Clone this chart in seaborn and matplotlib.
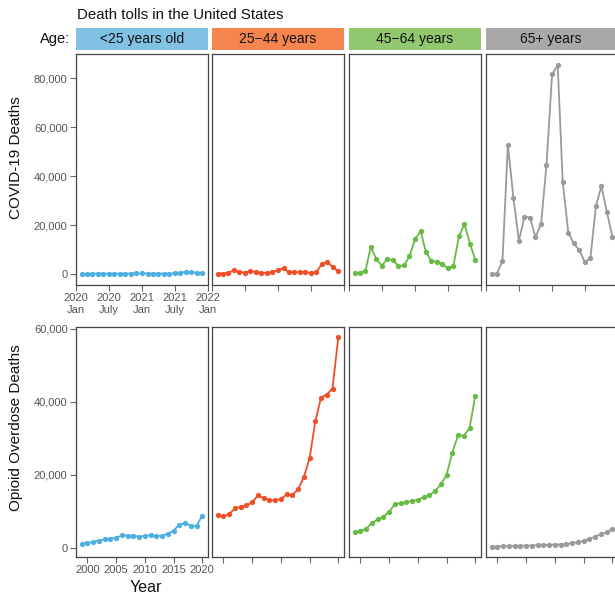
import matplotlib
matplotlib.use("Agg")
import matplotlib.pyplot as plt
from matplotlib.patches import Rectangle
from matplotlib.ticker import FuncFormatter
import pandas as pd
import seaborn as sns

# ---------------- data ----------------
age_groups = ["<25 years old", "25\u221244 years", "45\u221264 years", "65+ years"]

covid_months = ["2020-02-01", "2020-03-01", "2020-04-01", "2020-05-01", "2020-06-01",
                "2020-07-01", "2020-08-01", "2020-09-01", "2020-10-01", "2020-11-01",
                "2020-12-01", "2021-01-01", "2021-02-01", "2021-03-01", "2021-04-01",
                "2021-05-01", "2021-06-01", "2021-07-01", "2021-08-01", "2021-09-01",
                "2021-10-01", "2021-11-01", "2021-12-01"]

covid_u25 = [50, 100, 150, 200, 150, 150, 150, 150, 150, 200, 250, 250, 200, 200, 150,
             150, 200, 300, 600, 900, 800, 500, 300]
covid_25_44 = [200, 200, 500, 1500, 800, 600, 1200, 800, 500, 500, 800, 1600, 2300, 800,
               800, 800, 700, 500, 800, 4100, 5000, 2700, 1100]
covid_45_64 = [300, 300, 1400, 11000, 6000, 3400, 6300, 5600, 3300, 3500, 7200, 14400,
               17400, 9200, 5300, 5000, 4200, 2300, 3300, 15400, 20400, 12400, 5600]
covid_65p = [100, 100, 5200, 52800, 31100, 13600, 23400, 23100, 15100, 20500, 44600,
             81700, 85400, 37500, 16900, 12500, 9700, 4900, 6400, 27900, 35900, 25200,
             15100]

opioid_years = list(range(1999, 2021))
opioid_u25 = [1180, 1360, 1640, 2000, 2360, 2550, 2730, 3450, 3360, 3270, 3090, 3270,
              3450, 3180, 3360, 3910, 4730, 6360, 6820, 6000, 6000, 8820]
opioid_25_44 = [9000, 8640, 9270, 10820, 11270, 11640, 12450, 14360, 13640, 13090, 13000,
                13360, 14640, 14540, 16000, 19360, 24540, 34640, 41180, 42000, 43640,
                57630]
opioid_45_64 = [4270, 4550, 5270, 6820, 7820, 8550, 9910, 12000, 12180, 12450, 12910,
                13090, 13910, 14360, 15640, 17360, 20000, 26090, 30820, 30730, 32730,
                41630]
opioid_65p = [360, 360, 450, 450, 550, 550, 640, 640, 730, 730, 820, 910, 910, 1090,
              1270, 1550, 1910, 2360, 3090, 3730, 4270, 5270]

covid_ticks = ["2020-01-01", "2020-07-01", "2021-01-01", "2021-07-01", "2022-01-01"]
covid_tick_labels = ["2020\nJan", "2020\nJuly", "2021\nJan", "2021\nJuly", "2022\nJan"]
covid_yticks = [0, 20000, 40000, 60000, 80000]
opioid_xticks = [2000, 2005, 2010, 2015, 2020]
opioid_yticks = [0, 20000, 40000, 60000]

line_colors = ["#4daee0", "#f04e26", "#65bb44", "#9a9a9a"]
strip_colors = ["#80c1e4", "#f5844f", "#92c970", "#a9a9a9"]

covid_series = [covid_u25, covid_25_44, covid_45_64, covid_65p]
opioid_series = [opioid_u25, opioid_25_44, opioid_45_64, opioid_65p]

covid_df = pd.concat([
    pd.DataFrame({"date": pd.to_datetime(covid_months), "deaths": vals, "age": ag})
    for ag, vals in zip(age_groups, covid_series)])
opioid_df = pd.concat([
    pd.DataFrame({"year": opioid_years, "deaths": vals, "age": ag})
    for ag, vals in zip(age_groups, opioid_series)])

# ---------------- style ----------------
sns.set_style("ticks")
plt.rcParams["font.family"] = ["Liberation Sans", "DejaVu Sans"]

W, H = 615, 596
fig = plt.figure(figsize=(W / 100, H / 100), dpi=100)

cols = [(76, 208), (212, 344), (349, 481), (486, 618)]
rows = [(54, 285), (327, 557)]

def fx(px):
    return px / W

def fy(py):
    return 1 - py / H

tick_color = "#555555"
frame_color = "#444444"
fmt = FuncFormatter(lambda v, p: f"{int(v):,}")

for r, (top, bot) in enumerate(rows):
    for c, (l, rgt) in enumerate(cols):
        ax = fig.add_axes([fx(l), fy(bot), fx(rgt) - fx(l), fy(top) - fy(bot)])
        ag = age_groups[c]
        if r == 0:
            d = covid_df[covid_df["age"] == ag]
            sns.lineplot(data=d, x="date", y="deaths", ax=ax, color=line_colors[c],
                         marker="o", markersize=3.8, markeredgewidth=0, linewidth=1.3)
            ax.set_xlim(pd.Timestamp("2020-01-01"), pd.Timestamp("2022-01-01"))
            ax.set_ylim(-4500, 90000)
            ax.set_xticks(pd.to_datetime(covid_ticks))
            ax.set_yticks(covid_yticks)
            if c == 0:
                ax.set_xticklabels(covid_tick_labels)
            else:
                ax.set_xticklabels([])
        else:
            d = opioid_df[opioid_df["age"] == ag]
            sns.lineplot(data=d, x="year", y="deaths", ax=ax, color=line_colors[c],
                         marker="o", markersize=3.8, markeredgewidth=0, linewidth=1.3)
            ax.set_xlim(1998, 2021)
            ax.set_ylim(-2500, 60500)
            ax.set_xticks(opioid_xticks)
            ax.set_yticks(opioid_yticks)
            if c == 0:
                ax.set_xticklabels([str(t) for t in opioid_xticks])
            else:
                ax.set_xticklabels([])
        ax.yaxis.set_major_formatter(fmt)
        ax.set_xlabel("")
        ax.set_ylabel("")
        if c != 0:
            ax.tick_params(axis="y", left=False, labelleft=False)
        ax.tick_params(axis="both", direction="out", length=4, width=0.8,
                       color="#666666", labelcolor=tick_color, labelsize=8, pad=2)
        for s in ax.spines.values():
            s.set_visible(True)
            s.set_color(frame_color)
            s.set_linewidth(0.9)
        ax.grid(False)

# strips
for c, (l, rgt) in enumerate(cols):
    rect = Rectangle((fx(l), fy(50)), fx(rgt) - fx(l), fy(28) - fy(50),
                     transform=fig.transFigure, facecolor=strip_colors[c],
                     edgecolor="none")
    fig.patches.append(rect)
    fig.text(fx((l + min(rgt, 615)) / 2), fy(39.5),
             age_groups[c], ha="center", va="center", fontsize=10, color="#111111")

fig.text(fx(70), fy(39.5), "Age:", ha="right", va="center", fontsize=10.5, color="#111111")
fig.text(fx(77), fy(15), "Death tolls in the United States", ha="left", va="center",
         fontsize=10.8, color="#111111")
fig.text(fx(16), fy(158), "COVID-19 Deaths", rotation=90, ha="center",
         va="center", fontsize=11, color="#111111")
fig.text(fx(16), fy(428), "Opioid Overdose Deaths", rotation=90,
         ha="center", va="center", fontsize=11, color="#111111")
fig.text(fx(146), fy(588), "Year", ha="center", va="center", fontsize=11.5,
         color="#111111")

fig.savefig("out.png", dpi=100)
